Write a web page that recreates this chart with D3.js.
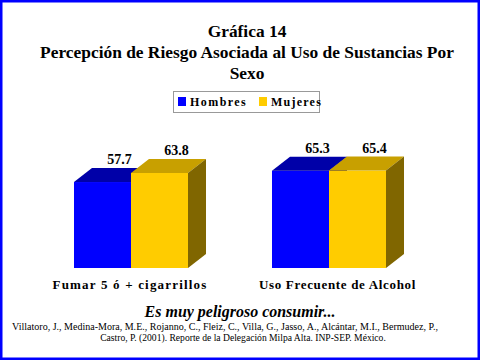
<!DOCTYPE html>
<html><head><meta charset="utf-8">
<script src="https://cdn.jsdelivr.net/npm/d3@7"></script>
<style>html,body{margin:0;padding:0;background:#fff;}svg{display:block;}</style>
</head><body>
<script>
const categories = ["Fumar 5 ó + cigarrillos", "Uso Frecuente de Alcohol"];
const seriesNames = ["Hombres", "Mujeres"];
const hombres = [57.7, 65.3];
const mujeres = [63.8, 65.4];
const titleLines = ["Gráfica 14", "Percepción de Riesgo Asociada al Uso de Sustancias Por", "Sexo"];
const subtitle = "Es muy peligroso consumir...";
const citation = ["Villatoro, J., Medina-Mora, M.E., Rojanno, C., Fleiz, C., Villa, G., Jasso, A., Alcántar, M.I., Bermudez, P.,",
                  "Castro, P. (2001). Reporte de la Delegación Milpa Alta. INP-SEP. México."];

const W = 480, H = 360;
const svg = d3.select("body").append("svg").attr("width", W).attr("height", H)
  .style("font-family", "Liberation Serif");
svg.append("rect").attr("x", 1).attr("y", 1).attr("width", W - 2).attr("height", H - 2)
  .attr("fill", "#fff").attr("stroke", "#0000ff").attr("stroke-width", 3);

function fit(sel, target) {
  const w = sel.node().getComputedTextLength();
  const fs = parseFloat(sel.attr("font-size"));
  sel.attr("font-size", fs * target / w);
}

// Title
const ty = [37, 58, 79];
const titles = titleLines.map((t, i) => svg.append("text").attr("x", 247).attr("y", ty[i]).attr("text-anchor", "middle")
    .attr("font-weight", "bold").attr("font-size", 18).text(t));
fit(titles[1], 414);
const tfs = titles[1].attr("font-size");
titles.forEach(t => t.attr("font-size", tfs));

const colors = {
  Hombres: {front: "#0000ff", top: "#0000a8", side: "#000080"},
  Mujeres: {front: "#ffcc00", top: "#c8a000", side: "#806600"}
};

// Legend
const lg = svg.append("g");
lg.append("rect").attr("x", 173.5).attr("y", 91.5).attr("width", 146).attr("height", 21)
  .attr("fill", "#fff").attr("stroke", "#999").attr("stroke-width", 1);
const legX = [178, 259];
const legW = [57, 51];
seriesNames.forEach((s, i) => {
  lg.append("rect").attr("x", legX[i]).attr("y", 97).attr("width", 8).attr("height", 9)
    .attr("fill", colors[s].front);
  const t = lg.append("text").attr("x", legX[i] + 12).attr("y", 106)
    .attr("font-weight", "bold").attr("font-size", 12).attr("letter-spacing", 1.2).text(s);
  const w = t.node().getComputedTextLength();
  t.attr("letter-spacing", 1.2 + (legW[i] - w) / (s.length - 1));
});

// Scales
const x0 = d3.scaleBand().domain(categories).range([32, 428]).paddingInner(0.4242).paddingOuter(0.2121);
const x1 = d3.scaleBand().domain(seriesNames).range([0, x0.bandwidth()]);
const y = d3.scaleLinear().domain([0, 100]).range([268, 119]);
const dx = 18, dy = 14;

const data = categories.map((c, i) => ({cat: c, values: [
  {s: "Hombres", v: hombres[i]}, {s: "Mujeres", v: mujeres[i]}]}));

const groups = svg.selectAll("g.grp").data(data).enter().append("g").attr("class", "grp")
  .attr("transform", d => `translate(${x0(d.cat)},0)`);

groups.each(function(d) {
  const g = d3.select(this);
  d.values.forEach(b => {
    const xl = x1(b.s), xr = xl + x1.bandwidth();
    const yt = y(b.v), yb = y(0);
    const c = colors[b.s];
    g.append("rect").attr("x", xl).attr("y", yt).attr("width", xr - xl).attr("height", yb - yt).attr("fill", c.front);
    g.append("path").attr("d", `M${xl},${yt}L${xl+dx},${yt-dy}L${xr+dx},${yt-dy}L${xr},${yt}Z`).attr("fill", c.top);
    g.append("path").attr("d", `M${xr},${yt}L${xr+dx},${yt-dy}L${xr+dx},${yb-dy}L${xr},${yb}Z`).attr("fill", c.side);
  });
  d.values.forEach(b => {
    const xc = x1(b.s) + x1.bandwidth() / 2 + dx - 1;
    g.append("text").attr("x", xc).attr("y", y(b.v) - dy - 4).attr("text-anchor", "middle")
      .attr("font-weight", "bold").attr("font-size", 14).text(b.v.toFixed(1));
  });
});

// Category labels
const catW = [155, 157];
svg.selectAll("text.cat").data(categories).enter().append("text").attr("class", "cat")
  .attr("x", (d, i) => [130, 337.5][i]).attr("y", 289).attr("text-anchor", "middle")
  .attr("font-weight", "bold").attr("font-size", 13).attr("letter-spacing", 1)
  .text(d => d)
  .each(function(d, i) {
    const w = this.getComputedTextLength();
    d3.select(this).attr("letter-spacing", 1 + (catW[i] - w) / d.length);
  });

const sub = svg.append("text").attr("x", 240).attr("y", 317).attr("text-anchor", "middle")
  .attr("font-weight", "bold").attr("font-style", "italic").attr("font-size", 16)
  .text(subtitle);
fit(sub, 191);

const cx = [225, 243], cy = [330, 341], cw = [426, 286];
citation.forEach((t, i) => {
  const s = svg.append("text").attr("x", cx[i]).attr("y", cy[i]).attr("text-anchor", "middle")
    .attr("font-size", 9.5).text(t);
  fit(s, cw[i]);
});
</script>
</body></html>
